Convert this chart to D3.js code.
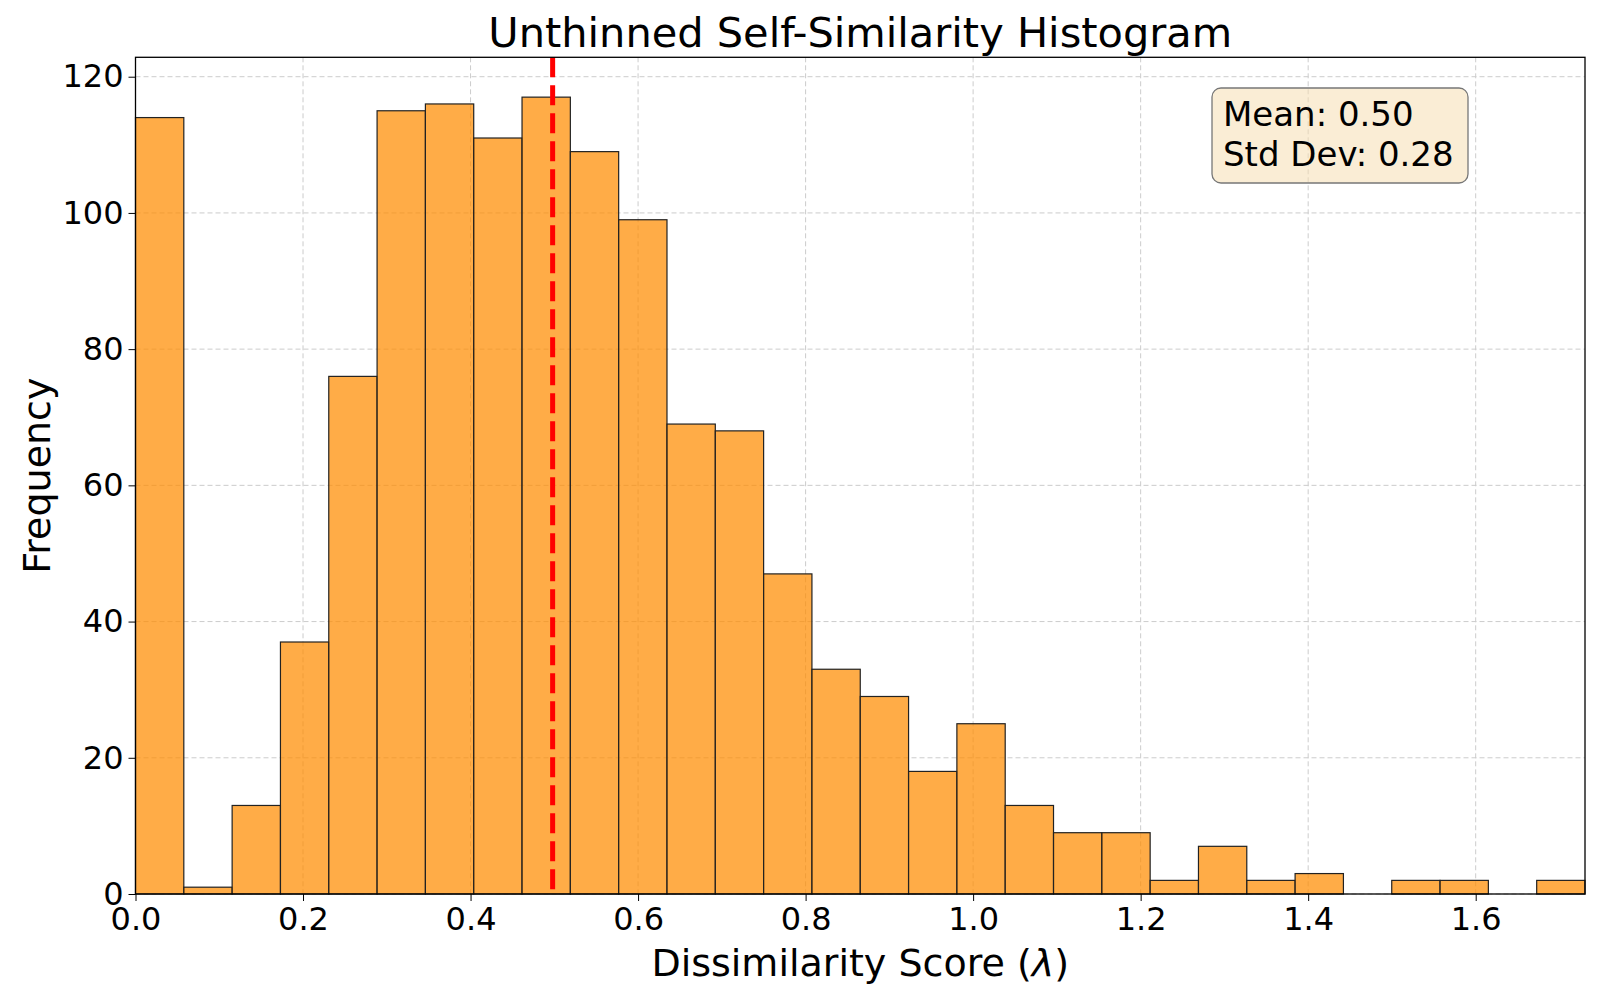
<!DOCTYPE html>
<html><head><meta charset="utf-8">
<script src="https://cdn.jsdelivr.net/npm/d3@7"></script>
<style>body{margin:0;background:#fff;font-family:"DejaVu Sans",sans-serif}</style>
</head><body><svg id="c" width="1600" height="1000"></svg>
<script>
const counts=[114,1,13,37,76,115,116,111,117,109,99,69,68,47,33,29,18,25,13,9,9,2,7,2,3,0,2,2,0,2];
const xMax=1.7305;
const meanVal=0.498;
const xTicks=[0,0.2,0.4,0.6,0.8,1.0,1.2,1.4,1.6];
const yTicks=[0,20,40,60,80,100,120];
const statsText=["Mean: 0.50","Std Dev: 0.28"];
const L=135.5,R=1585,T=57.3,B=894;
const svg=d3.select("#c");
const x=d3.scaleLinear().domain([0,xMax]).range([L,R]);
const y=d3.scaleLinear().domain([0,122.85]).range([B,T]);
const g=svg.append("g");
xTicks.forEach(t=>g.append("line").attr("x1",x(t)).attr("x2",x(t)).attr("y1",T).attr("y2",B).attr("stroke","#ccc").attr("stroke-dasharray","5,3"));
yTicks.forEach(t=>g.append("line").attr("x1",L).attr("x2",R).attr("y1",y(t)).attr("y2",y(t)).attr("stroke","#ccc").attr("stroke-dasharray","5,3"));
const bw=xMax/counts.length;
svg.selectAll("rect.b").data(counts).enter().append("rect")
 .attr("x",(d,i)=>x(i*bw)).attr("width",x(bw)-x(0)).attr("y",d=>y(d)).attr("height",d=>B-y(d))
 .attr("fill","rgba(255,140,0,0.72)").attr("stroke",d=>d>0?"#222":"none").attr("stroke-width",1.2);
svg.append("line").attr("x1",x(meanVal)).attr("x2",x(meanVal)).attr("y1",T).attr("y2",B)
 .attr("stroke","red").attr("stroke-width",5).attr("stroke-dasharray","20,8");
svg.append("rect").attr("x",L).attr("y",T).attr("width",R-L).attr("height",B-T).attr("fill","none").attr("stroke","#000").attr("stroke-width",1.3);
svg.append("g").attr("transform",`translate(0,${B})`).call(d3.axisBottom(x).tickValues(xTicks).tickFormat(d3.format(".1f")).tickSize(7).tickSizeOuter(0))
 .call(a=>{a.select(".domain").remove();a.selectAll("text").attr("font-size",32).attr("font-family","DejaVu Sans").attr("fill","#000").attr("dy","0.8em");});
svg.append("g").attr("transform",`translate(${L},0)`).call(d3.axisLeft(y).tickValues(yTicks).tickSize(7).tickSizeOuter(0))
 .call(a=>{a.select(".domain").remove();a.selectAll("text").attr("font-size",32).attr("font-family","DejaVu Sans").attr("fill","#000").attr("dx","-2");});
svg.append("text").attr("x",(L+R)/2).attr("y",47).attr("text-anchor","middle").attr("font-size",41.5).text("Unthinned Self-Similarity Histogram");
const xl=svg.append("text").attr("x",(L+R)/2).attr("y",976).attr("text-anchor","middle").attr("font-size",38);
xl.append("tspan").text("Dissimilarity Score (");
xl.append("tspan").attr("font-style","italic").text("λ");
xl.append("tspan").text(")");
svg.append("text").attr("transform",`translate(50,${(T+B)/2}) rotate(-90)`).attr("text-anchor","middle").attr("font-size",38).text("Frequency");
svg.append("rect").attr("x",1212).attr("y",88).attr("width",256).attr("height",95).attr("rx",9)
 .attr("fill","rgba(245,222,179,0.55)").attr("stroke","#777").attr("stroke-width",1.3);
statsText.forEach((s,i)=>svg.append("text").attr("x",1223).attr("y",126+i*40).attr("font-size",34).text(s));
</script></body></html>
